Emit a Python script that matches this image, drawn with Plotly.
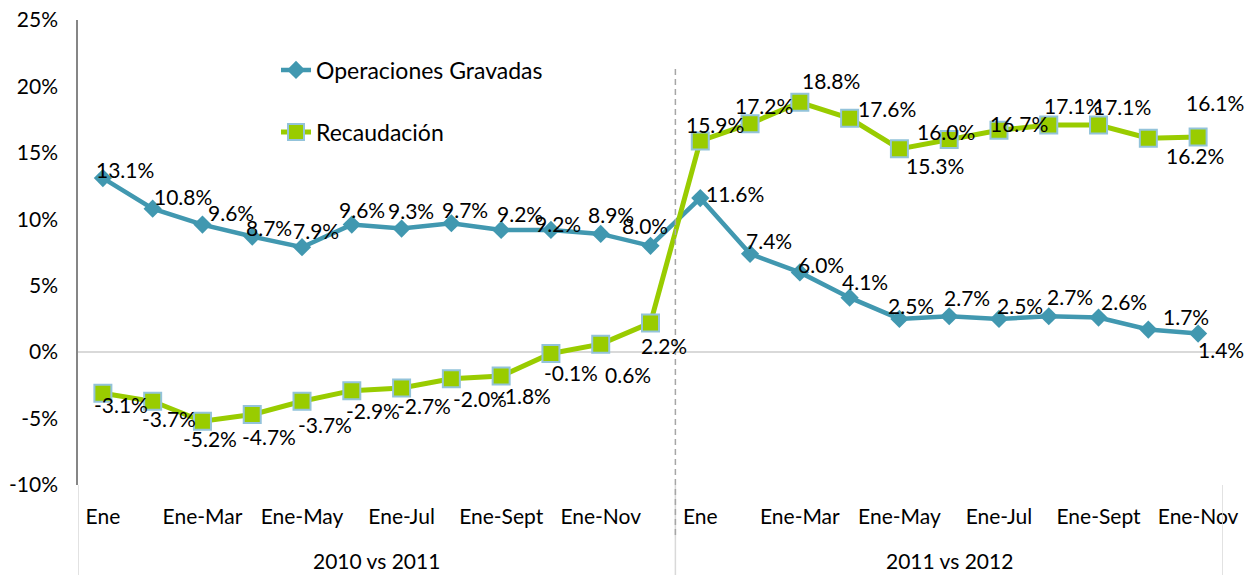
import plotly.graph_objects as go

# ---- data ----
groups = ["2010 vs 2011", "2011 vs 2012"]
group1_cats = ["Ene", "Ene-Feb", "Ene-Mar", "Ene-Abr", "Ene-May", "Ene-Jun", "Ene-Jul",
               "Ene-Ago", "Ene-Sept", "Ene-Oct", "Ene-Nov", "Ene-Dic"]
group2_cats = ["Ene", "Ene-Feb", "Ene-Mar", "Ene-Abr", "Ene-May", "Ene-Jun", "Ene-Jul",
               "Ene-Ago", "Ene-Sept", "Ene-Oct", "Ene-Nov"]
operaciones = [13.1, 10.8, 9.6, 8.7, 7.9, 9.6, 9.3, 9.7, 9.2, 9.2, 8.9, 8.0,
               11.6, 7.4, 6.0, 4.1, 2.5, 2.7, 2.5, 2.7, 2.6, 1.7, 1.4]
recaudacion = [-3.1, -3.7, -5.2, -4.7, -3.7, -2.9, -2.7, -2.0, -1.8, -0.1, 0.6, 2.2,
               15.9, 17.2, 18.8, 17.6, 15.3, 16.0, 16.7, 17.1, 17.1, 16.1, 16.2]
y_tickvals = [-10, -5, 0, 5, 10, 15, 20, 25]
y_ticktext = ["-10%", "-5%", "0%", "5%", "10%", "15%", "20%", "25%"]

# ---- layout helpers (positions / styles) ----
cats = group1_cats + group2_cats
xs = list(range(len(cats)))
n1 = len(group1_cats)
tick_idx = xs[::2]

blue_off = [(22, -9), (30, -12), (29, -12), (17, -9), (14, -17), (10, -15), (9, -18),
            (14, -14), (19, -16), (7, -6), (10, -19), (-6, -20), (35, -5), (19, -13),
            (21, -8), (15, -16), (12, -13), (18, -19), (21, -13), (21, -20), (25, -16),
            (38, -13), (23, 16)]
green_off = [(18, 11), (16, 17), (8, 17), (17, 22), (23, 23), (21, 20), (22, 17),
             (29, 20), (23, 19), (20, 19), (27, 30), (13, 23), (15, -16), (14, -18),
             (31, -22), (37, -10), (36, 17), (-3, -8), (20, -7), (24, -19), (23, -18),
             (67, -36), (-3, 19)]

FONT = "Lato"
FS = 21
BLUE = "#4198B0"
GREEN = "#99CC00"
SQ_EDGE = "#93C3DA"

# page body has an 8px default margin
PAD = 8
PLOT_L, PLOT_T, PLOT_W, PLOT_H = 78, 20, 1145, 465

fig = go.Figure()
fig.add_trace(go.Scatter(
    x=xs, y=operaciones, mode="lines+markers", name="Operaciones Gravadas",
    line=dict(color=BLUE, width=4.5),
    marker=dict(symbol="diamond", size=14, color=BLUE),
    legend="legend", hoverinfo="skip"))
fig.add_trace(go.Scatter(
    x=xs, y=recaudacion, mode="lines+markers", name="Recaudación",
    line=dict(color=GREEN, width=5),
    marker=dict(symbol="square", size=17, color=GREEN, line=dict(color=SQ_EDGE, width=2)),
    legend="legend2", hoverinfo="skip"))

annotations = []
for series, offs in ((operaciones, blue_off), (recaudacion, green_off)):
    for i, (v, (dx, dy)) in enumerate(zip(series, offs)):
        annotations.append(dict(
            x=i, y=v, xref="x", yref="y", text=f"{v:.1f}%", showarrow=False,
            xshift=dx, yshift=-dy, font=dict(family=FONT, size=FS, color="#000000")))

# group labels
annotations.append(dict(x=(n1 - 1) / 2, y=-75 / PLOT_H, xref="x", yref="paper",
                        text=groups[0], showarrow=False, yanchor="middle",
                        font=dict(family=FONT, size=FS, color="#000000")))
annotations.append(dict(x=n1 + (len(group2_cats) - 1) / 2, y=-75 / PLOT_H, xref="x", yref="paper",
                        text=groups[1], showarrow=False, yanchor="middle",
                        font=dict(family=FONT, size=FS, color="#000000")))

shapes = []
for xb in (-0.5, n1 - 0.5, len(cats) - 0.5):
    shapes.append(dict(type="line", xref="x", yref="paper", x0=xb, x1=xb,
                       y0=0, y1=-90 / PLOT_H, line=dict(color="#D9D9D9", width=1.5)))
shapes.append(dict(type="line", xref="x", yref="paper", x0=n1 - 0.5, x1=n1 - 0.5,
                   y0=(485 - 69) / PLOT_H, y1=(485 - 538) / PLOT_H,
                   line=dict(color="#A6A6A6", width=1.5, dash="6px,4px")))

fig.update_layout(
    width=1253 - PAD, height=575 - PAD,
    margin=dict(l=PLOT_L - PAD, r=1253 - PLOT_L - PLOT_W, t=PLOT_T - PAD, b=575 - PLOT_T - PLOT_H,
                autoexpand=False),
    paper_bgcolor="white", plot_bgcolor="white",
    font=dict(family=FONT, size=FS, color="#000000"),
    showlegend=True,
    legend=dict(x=(276 - 78) / PLOT_W, y=(485 - 70) / PLOT_H, xanchor="left", yanchor="middle",
                bgcolor="rgba(0,0,0,0)", font=dict(family=FONT, size=23)),
    legend2=dict(x=(276 - 78) / PLOT_W, y=(485 - 132) / PLOT_H, xanchor="left", yanchor="middle",
                 bgcolor="rgba(0,0,0,0)", font=dict(family=FONT, size=23)),
    annotations=annotations,
    shapes=shapes,
    xaxis=dict(range=[-0.5, len(cats) - 0.5], tickmode="array", tickvals=tick_idx,
               ticktext=[cats[i] for i in tick_idx], showgrid=False, zeroline=False,
               showline=False, ticks="outside", ticklen=13, tickcolor="rgba(0,0,0,0)",
               automargin=False, ticklabeloverflow="allow",
               tickfont=dict(family=FONT, size=FS, color="#000000"), fixedrange=True),
    yaxis=dict(range=[-10, 25], tickmode="array", tickvals=y_tickvals, ticktext=y_ticktext,
               showgrid=False, zeroline=True, zerolinecolor="#D9D9D9", zerolinewidth=1.5,
               showline=True, linecolor="#868686", linewidth=1.5,
               ticks="outside", ticklen=14, tickcolor="rgba(0,0,0,0)", automargin=False,
               ticklabeloverflow="allow",
               tickfont=dict(family=FONT, size=FS, color="#000000"), fixedrange=True),
)

fig.write_html("out.html")
